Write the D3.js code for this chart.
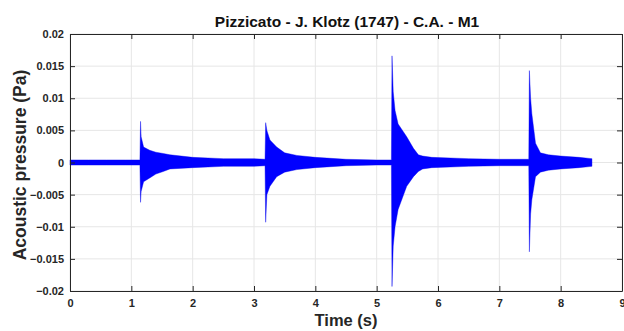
<!DOCTYPE html>
<html>
<head>
<meta charset="utf-8">
<script src="https://cdn.jsdelivr.net/npm/d3@7"></script>
<style>
  body { margin: 0; background: #fff; }
  text { font-family: "Liberation Sans", Arial, sans-serif; }
</style>
</head>
<body>
<svg id="chart"></svg>
<script>
var times = [0, 0.3, 0.6, 0.9, 1.14, 1.15, 1.16, 1.2, 1.3, 1.4, 1.52, 1.63, 2.0, 2.5, 3.0, 3.18,
             3.19, 3.21, 3.26, 3.37, 3.5, 3.7, 4.0, 4.5, 5.0, 5.24,
             5.25, 5.27, 5.3, 5.35, 5.49, 5.6, 5.68, 5.75, 5.9, 6.5, 7.0, 7.48,
             7.49, 7.51, 7.53, 7.59, 7.67, 7.8, 8.0, 8.3, 8.51];
var upper = [0.0004, 0.0004, 0.0004, 0.0004, 0.0004, 0.0064, 0.0040, 0.0024, 0.0019, 0.0016, 0.0014, 0.0012, 0.0008, 0.0006, 0.0006, 0.0005,
             0.0062, 0.0050, 0.0035, 0.0024, 0.0015, 0.0011, 0.0008, 0.0005, 0.0004, 0.0004,
             0.0166, 0.0110, 0.0081, 0.0060, 0.0040, 0.0022, 0.0012, 0.0010, 0.0008, 0.0006, 0.0005, 0.0005,
             0.0143, 0.0100, 0.0076, 0.0030, 0.0015, 0.0012, 0.0010, 0.0008, 0.0006];
var lower = [-0.0004, -0.0004, -0.0004, -0.0004, -0.0004, -0.0062, -0.0045, -0.0030, -0.0024, -0.0018, -0.0014, -0.0010, -0.0008, -0.0006, -0.0006, -0.0005,
             -0.0093, -0.0050, -0.0037, -0.0022, -0.0015, -0.0011, -0.0008, -0.0005, -0.0004, -0.0004,
             -0.0193, -0.0130, -0.0100, -0.0073, -0.0037, -0.0022, -0.0014, -0.0010, -0.0008, -0.0006, -0.0005, -0.0005,
             -0.0139, -0.0080, -0.0058, -0.0022, -0.0015, -0.0012, -0.0010, -0.0008, -0.0006];

var xTicks = [0, 1, 2, 3, 4, 5, 6, 7, 8, 9];
var yTicks = [-0.02, -0.015, -0.01, -0.005, 0, 0.005, 0.01, 0.015, 0.02];

var outerWidth = 624;
var outerHeight = 331;
var margin = { left: 70, top: 34, right: 2, bottom: 40 };
var innerWidth  = outerWidth  - margin.left - margin.right;
var innerHeight = outerHeight - margin.top  - margin.bottom;

var svg = d3.select("#chart")
    .attr("width", outerWidth)
    .attr("height", outerHeight);
var g = svg.append("g")
    .attr("transform", "translate(" + margin.left + "," + margin.top + ")");

var x = d3.scaleLinear().domain([0, 9]).range([0, innerWidth]);
var y = d3.scaleLinear().domain([-0.02, 0.02]).range([innerHeight, 0]);

// grid
g.append("g").selectAll("line").data(xTicks).enter().append("line")
    .attr("x1", function(d) { return x(d); }).attr("x2", function(d) { return x(d); })
    .attr("y1", 0).attr("y2", innerHeight)
    .attr("stroke", "#e6e6e6").attr("stroke-width", 1);
g.append("g").selectAll("line").data(yTicks).enter().append("line")
    .attr("y1", function(d) { return y(d); }).attr("y2", function(d) { return y(d); })
    .attr("x1", 0).attr("x2", innerWidth)
    .attr("stroke", "#e6e6e6").attr("stroke-width", 1);

// signal
var env = times.map(function(t, i) { return { t: t, hi: upper[i], lo: lower[i] }; });
var area = d3.area()
    .x(function(d) { return x(d.t); })
    .y0(function(d) { return y(d.lo); })
    .y1(function(d) { return y(d.hi); });
g.append("path")
    .datum(env)
    .attr("d", area)
    .attr("fill", "#0000ff")
    .attr("stroke", "#0000ee")
    .attr("stroke-width", 0.4);

// axes, matlab style box with inward ticks
var fmtY = function(d) { return d === 0 ? "0" : d3.format("")(+d.toFixed(3)); };
var xAxis = g.append("g").attr("transform", "translate(0," + innerHeight + ")")
    .call(d3.axisBottom(x).tickValues(xTicks).tickSizeInner(-5).tickSizeOuter(0).tickPadding(8));
var xTop = g.append("g")
    .call(d3.axisTop(x).tickValues(xTicks).tickSizeInner(-5).tickSizeOuter(0));
var yAxis = g.append("g")
    .call(d3.axisLeft(y).tickValues(yTicks).tickSizeInner(-5).tickSizeOuter(0).tickPadding(6).tickFormat(fmtY));
var yRight = g.append("g").attr("transform", "translate(" + innerWidth + ",0)")
    .call(d3.axisRight(y).tickValues(yTicks).tickSizeInner(-5).tickSizeOuter(0));
// the top and right sides only carry tick marks
xTop.selectAll("text").remove();
yRight.selectAll("text").remove();

[xAxis, xTop, yAxis, yRight].forEach(function(a) {
  a.select(".domain").attr("stroke", "#262626").attr("stroke-width", 1);
  a.selectAll(".tick line").attr("stroke", "#262626");
  a.selectAll("text")
    .attr("fill", "#262626")
    .style("font-size", "11px")
    .style("font-weight", "bold");
});

// title and labels
svg.append("text")
    .attr("x", 347)
    .attr("y", 27)
    .attr("text-anchor", "middle")
    .style("font-size", "15.5px")
    .style("font-weight", "bold")
    .attr("fill", "#111")
    .text("Pizzicato - J. Klotz (1747) - C.A. - M1");

svg.append("text")
    .attr("x", 346)
    .attr("y", 326)
    .attr("text-anchor", "middle")
    .style("font-size", "16.5px")
    .style("font-weight", "bold")
    .attr("fill", "#262626")
    .text("Time (s)");

svg.append("text")
    .attr("transform", "translate(26,165) rotate(-90)")
    .attr("text-anchor", "middle")
    .style("font-size", "17.5px")
    .style("font-weight", "bold")
    .attr("fill", "#262626")
    .text("Acoustic pressure (Pa)");
</script>
</body>
</html>
